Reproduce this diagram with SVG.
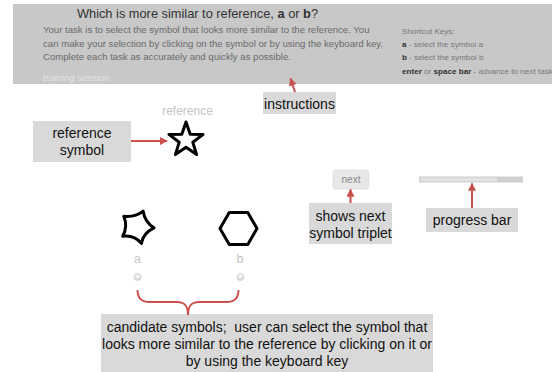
<svg xmlns="http://www.w3.org/2000/svg" width="552" height="372" viewBox="0 0 552 372">
<style>
text{font-family:"Liberation Sans",Arial,sans-serif}
.box{fill:#d9d9d9}
.lbl{font-size:14px;fill:#111;text-anchor:middle}
.body{font-size:9.6px;fill:#6a6a6a}
.sk{font-size:8.1px;fill:#777}
.skb{font-weight:bold;fill:#333}
.arrow{stroke:#c9504c;stroke-width:2;fill:none;marker-end:url(#ah)}
.sym{fill:none;stroke:#000;stroke-width:3;stroke-linejoin:round}
.cap{fill:#c4c4c4;text-anchor:middle}
</style>
<defs>
<marker id="ah" viewBox="0 0 10 10" refX="9" refY="5" markerWidth="4" markerHeight="4" orient="auto" markerUnits="strokeWidth">
<path d="M0,0 L10,5 L0,10 z" fill="#c9504c"/>
</marker>
<radialGradient id="rg" cx="0.5" cy="0.35" r="0.6">
<stop offset="0" stop-color="#ffffff"/>
<stop offset="1" stop-color="#d4d4d4"/>
</radialGradient>
</defs>

<g id="panel">
<rect x="13" y="4" width="539" height="80" fill="#c8c8c8"/>
<text x="197.5" y="18" font-size="12.8" fill="#333" text-anchor="middle">Which is more similar to reference, <tspan font-weight="bold">a</tspan> or <tspan font-weight="bold">b</tspan>?</text>
<text class="body" x="43" y="33">Your task is to select the symbol that looks more similar to the reference. You</text>
<text class="body" x="43" y="46.5">can make your selection by clicking on the symbol or by using the keyboard key.</text>
<text class="body" x="43" y="60">Complete each task as accurately and quickly as possible.</text>
<text x="43" y="81" font-size="9.6" font-style="italic" fill="#e6e6e6">training session</text>
<text class="sk" x="402" y="33.5">Shortcut Keys:</text>
<text class="sk" x="402" y="46.5"><tspan class="skb">a</tspan> - select the symbol a</text>
<text class="sk" x="402" y="60"><tspan class="skb">b</tspan> - select the symbol b</text>
<text class="sk" x="402" y="73.5"><tspan class="skb">enter</tspan> or <tspan class="skb">space bar</tspan> - advance to next task</text>
</g>

<g id="instructions">
<rect class="box" x="263" y="92" width="73" height="22"/>
<text class="lbl" x="299.5" y="108.5">instructions</text>
</g>

<g id="reference-label">
<rect class="box" x="33" y="121" width="98" height="41"/>
<text class="lbl" x="82" y="138">reference</text>
<text class="lbl" x="82" y="155">symbol</text>
</g>

<g id="reference">
<text class="cap" x="187.5" y="115" font-size="12">reference</text>
<path class="sym" stroke-linejoin="miter" d="M186,122 L190.2,134.2 L203.1,134.4 L192.8,142.2 L196.6,154.6 L186,147.2 L175.4,154.6 L179.2,142.2 L168.9,134.4 L181.8,134.2 Z"/>
</g>

<g id="next-button">
<rect x="333" y="170" width="36" height="19" rx="3" fill="#e8e8e8" stroke="#dedede" stroke-width="0.8"/>
<text x="351" y="183" font-size="10" fill="#888" text-anchor="middle">next</text>
</g>

<g id="progress-bar">
<rect x="419" y="176.5" width="104" height="6" fill="#cfcfcf"/>
<rect x="420.5" y="177.7" width="76.5" height="3.6" fill="#e4e4e4"/>
</g>

<g id="shows-next">
<rect class="box" x="309" y="203" width="83" height="41"/>
<text class="lbl" x="350.5" y="221">shows next</text>
<text class="lbl" x="350.5" y="238">symbol triplet</text>
</g>

<g id="progress-label">
<rect class="box" x="426" y="208" width="92" height="24"/>
<text class="lbl" x="472" y="225">progress bar</text>
</g>

<g id="candidate-a">
<path class="sym" d="M154,227.9 Q143.1,233.1 141.4,243.4 Q134.2,234.8 122.7,236.3 Q128.1,226.1 123.8,216.3 Q135.3,217.4 143.1,211.1 Q144.8,222.2 154,227.9 Z"/>
<text class="cap" x="137.5" y="263" font-size="12.5">a</text>
<circle cx="137.5" cy="277" r="3.5" fill="url(#rg)" stroke="#cfcfcf" stroke-width="0.8"/>
</g>

<g id="candidate-b">
<path class="sym" d="M257,228.5 L247.75,244.5 L229.25,244.5 L220,228.5 L229.25,212.5 L247.75,212.5 Z"/>
<text class="cap" x="240" y="263" font-size="12.5">b</text>
<circle cx="240.5" cy="277" r="3.5" fill="url(#rg)" stroke="#cfcfcf" stroke-width="0.8"/>
</g>

<g id="candidates-label">
<rect class="box" x="101" y="314" width="332" height="58"/>
<text class="lbl" x="267" y="331.5" xml:space="preserve">candidate symbols;  user can select the symbol that</text>
<text class="lbl" x="267" y="348.5">looks more similar to the reference by clicking on it or</text>
<text class="lbl" x="267" y="365.5">by using the keyboard key</text>
</g>

<g id="connectors">
<path class="arrow" d="M295,92 L290.5,78.5"/>
<path class="arrow" d="M131,141 L167,141"/>
<path class="arrow" d="M350.5,203 L350.5,189.5"/>
<path class="arrow" d="M472,208 L472,183.5"/>
<path d="M137.5,290 C137.5,299 142,302 150,302 L177,302 C185,302 188,306 188,315 C188,306 191,302 199,302 L226,302 C234,302 238.5,299 238.5,290" fill="none" stroke="#c9504c" stroke-width="2"/>
</g>
</svg>
